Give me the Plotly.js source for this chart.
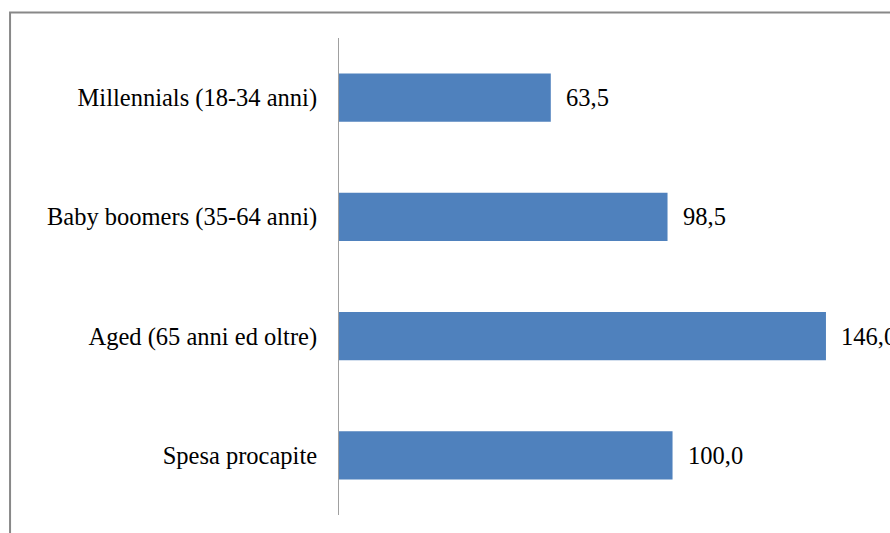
<!DOCTYPE html>
<html>
<head>
<meta charset="utf-8">
<script src="https://cdn.plot.ly/plotly-3.0.1.min.js"></script>
<style>
html,body{margin:0;padding:0;background:#fff;}
#chart{width:890px;height:533px;}
</style>
</head>
<body>
<div id="chart"></div>
<script>
var categories = ["Millennials (18-34 anni)", "Baby boomers (35-64 anni)", "Aged (65 anni ed oltre)", "Spesa procapite"];
var values = [63.5, 98.5, 146.0, 100.0];
var valueLabels = ["63,5", "98,5", "146,0", "100,0"];

var fontFam = "Liberation Serif";
var fontSize = 24.5;

var trace = {
  type: "bar",
  orientation: "h",
  y: categories,
  x: values,
  marker: {color: "#4F81BD"},
  width: 0.404,
  hoverinfo: "none"
};

var annotations = categories.map(function(c, i){
  return {
    x: values[i], y: c, xref: "x", yref: "y",
    text: valueLabels[i], showarrow: false,
    xanchor: "left", xshift: 13,
    font: {family: fontFam, size: fontSize, color: "#000"}
  };
});

var layout = {
  width: 890, height: 533,
  margin: {l: 339, r: 0, t: 38, b: 18},
  paper_bgcolor: "#fff", plot_bgcolor: "#fff",
  showlegend: false,
  separators: ",.",
  font: {family: fontFam, color: "#000"},
  xaxis: {range: [0, 165.2], visible: false, showgrid: false, zeroline: false},
  yaxis: {
    autorange: "reversed", showline: true, linecolor: "#a0a0a0", linewidth: 1,
    ticks: "", showgrid: false, zeroline: false,
    ticklabelstandoff: 16,
    tickfont: {family: fontFam, size: fontSize, color: "#000"}
  },
  annotations: annotations,
  shapes: [{
    type: "rect", xref: "paper", yref: "paper",
    x0: -0.597, x1: 1.2, y0: -0.2, y1: 1.0535,
    line: {color: "#888888", width: 2}, fillcolor: "rgba(0,0,0,0)", layer: "below"
  }]
};

Plotly.newPlot("chart", [trace], layout, {displayModeBar: false, staticPlot: true});
</script>
</body>
</html>
